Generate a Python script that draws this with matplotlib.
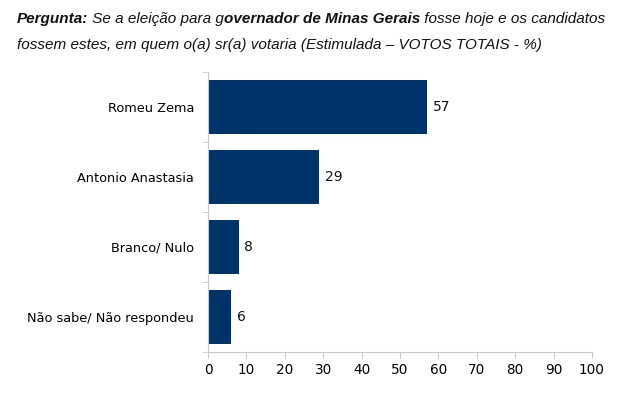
import matplotlib
matplotlib.use("Agg")
import matplotlib.pyplot as plt

# dados
categorias = ["Romeu Zema", "Antonio Anastasia", "Branco/ Nulo", "Não sabe/ Não respondeu"]
valores = [57, 29, 8, 6]
xticks = list(range(0, 101, 10))

cor_barra = "#00336a"
cor_eixo = "#c8c8c8"

fig = plt.figure(figsize=(6.4, 3.95), dpi=100)
ax = fig.add_axes([0.325, 0.109, 0.6, 0.709])

pos = list(range(len(categorias)))
ax.barh(pos, valores, height=0.77, color=cor_barra)
ax.set_ylim(len(categorias) - 0.5, -0.5)
ax.set_xlim(0, 100)

for p, v in zip(pos, valores):
    ax.text(v + 1.5, p, str(v), va="center", ha="left", fontsize=10, color="#111111")

ax.set_xticks(xticks)
ax.set_xticklabels([str(t) for t in xticks], fontsize=9.8)
ax.set_yticks(pos)
ax.set_yticklabels(categorias, fontsize=9.3)
ax.set_yticks([-0.5 + i for i in range(len(categorias) + 1)], minor=True)
ax.tick_params(axis="y", which="major", length=0, pad=10)
ax.tick_params(axis="y", which="minor", length=4, color=cor_eixo)
ax.tick_params(axis="x", length=4, color=cor_eixo, pad=4)

for s in ["top", "right"]:
    ax.spines[s].set_visible(False)
ax.spines["left"].set_color(cor_eixo)
ax.spines["bottom"].set_color(cor_eixo)

# titulo em partes (negrito / italico)
fam = "Liberation Sans"
linha1 = [("Pergunta:", "bold"), (" Se a eleição para g", "normal"),
          ("overnador de Minas Gerais", "bold"), (" fosse hoje e os candidatos", "normal")]
linha2 = [("fossem estes, em quem o(a) sr(a) votaria (Estimulada – VOTOS TOTAIS - %)", "normal")]

fig.canvas.draw()
renderer = fig.canvas.get_renderer()
W, H = fig.get_size_inches() * fig.dpi
for linha, ypix in [(linha1, 23), (linha2, 49)]:
    x = 17
    for texto, peso in linha:
        t = fig.text(x / W, 1 - ypix / H, texto, fontsize=11.0, family=fam,
                     style="italic", weight=peso, color="#111111", va="baseline")
        bb = t.get_window_extent(renderer)
        x += bb.width

fig.savefig("out.png", dpi=100)
